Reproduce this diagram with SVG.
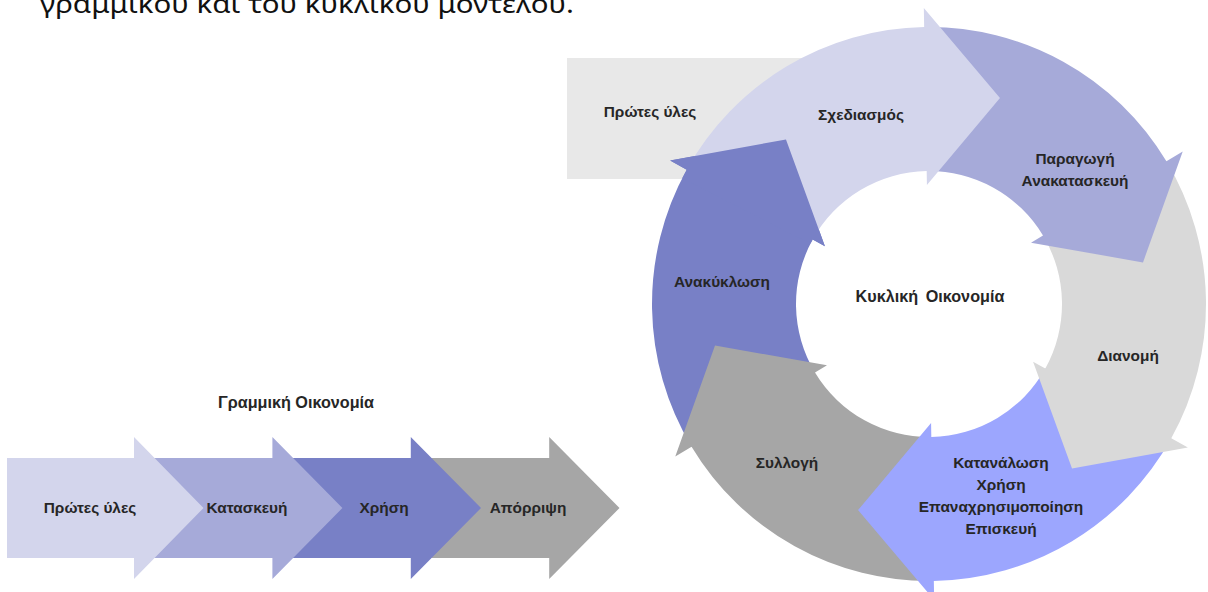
<svg xmlns="http://www.w3.org/2000/svg" xmlns:xlink="http://www.w3.org/1999/xlink" width="1208" height="592" viewBox="0 0 1208 592">
  <style>
    .lbl { font-family: "Liberation Sans", Arial, sans-serif; font-weight: bold; font-size: 15.4px; fill: #262626; text-anchor: middle; }
    .title { font-family: "Liberation Sans", Arial, sans-serif; font-weight: bold; font-size: 16.2px; fill: #262626; text-anchor: middle; }
    .body { font-family: "Noto Sans", "Open Sans", sans-serif; font-size: 25px; fill: #111111; }
    .c1 { fill: #D3D5EC; }
    .c2 { fill: #A6AAD9; }
    .c3 { fill: #7880C6; }
    .c4 { fill: #A6A6A6; }
    .c5 { fill: #D9D9D9; }
    .c6 { fill: #9CA6FE; }
    .raw { fill: #E8E8E8; }
  </style>
  <defs>
    <path id="anak-head" d="M 682.19,178.25 A 277 277 0 0 1 686.73,169.71 L 670.11,160.50 L 785.98,139.47 L 824.92,246.31 L 812.68,239.52 A 133 133 0 0 0 810.50,243.62 Z"/>
  </defs>
  <rect width="1208" height="592" fill="#FFFFFF"/>

  <text class="body" x="40" y="13" textLength="534" lengthAdjust="spacingAndGlyphs">γραμμικού και του  κυκλικού μοντέλου.</text>

  <!-- Linear economy -->
  <g id="linear-title">
    <text class="title" x="296" y="408">Γραμμική Οικονομία</text>
  </g>
  <g id="linear-apporipsi">
    <path class="c4" d="M 410.8,458 L 549.2,458 L 549.2,437 L 619.5,508 L 549.2,579 L 549.2,558 L 410.8,558 Z"/>
    <text class="lbl" x="528" y="513">Απόρριψη</text>
  </g>
  <g id="linear-xrisi">
    <path class="c3" d="M 272.4,458 L 410.8,458 L 410.8,437 L 481,508 L 410.8,579 L 410.8,558 L 272.4,558 Z"/>
    <text class="lbl" x="384" y="513">Χρήση</text>
  </g>
  <g id="linear-kataskevi">
    <path class="c2" d="M 134,458 L 272.4,458 L 272.4,437 L 342.4,508 L 272.4,579 L 272.4,558 L 134,558 Z"/>
    <text class="lbl" x="247" y="513">Κατασκευή</text>
  </g>
  <g id="linear-protes-ules">
    <path class="c1" d="M 7,458 L 134,458 L 134,437 L 203.5,508 L 134,579 L 134,558 L 7,558 Z"/>
    <text class="lbl" x="90" y="513">Πρώτες ύλες</text>
  </g>

  <!-- Raw materials box behind cycle -->
  <g id="cycle-protes-ules">
    <rect class="raw" x="567" y="58" width="240" height="121"/>
    <text class="lbl" x="650" y="117">Πρώτες ύλες</text>
  </g>

  <!-- Circular economy -->
  <g id="anakyklosi">
    <path class="c3" d="M 691.57,446.67 A 277 277 0 0 1 686.73,169.71 L 670.11,160.50 L 785.98,139.47 L 824.92,246.31 L 812.68,239.52 A 133 133 0 0 0 815.00,372.50 Z"/>
    <text class="lbl" x="722" y="287">Ανακύκλωση</text>
  </g>
  <g id="syllogi">
    <path class="c4" d="M 933.83,580.96 A 277 277 0 0 1 691.57,446.67 L 675.28,456.45 L 715.00,345.60 L 827.00,365.29 L 815.00,372.50 A 133 133 0 0 0 931.32,436.98 Z"/>
    <text class="lbl" x="787" y="468">Συλλογή</text>
  </g>
  <g id="katanalosi">
    <path class="c6" d="M 1171.27,438.29 A 277 277 0 0 1 933.83,580.96 L 934.17,599.95 L 858.03,510.12 L 931.08,422.98 L 931.32,436.98 A 133 133 0 0 0 1045.32,368.48 Z"/>
    <text class="lbl" x="1001" y="468">Κατανάλωση</text>
    <text class="lbl" x="1001" y="490">Χρήση</text>
    <text class="lbl" x="1001" y="512">Επαναχρησιμοποίηση</text>
    <text class="lbl" x="1001" y="534">Επισκευή</text>
  </g>
  <g id="dianomi">
    <path class="c5" d="M 1166.43,161.33 A 277 277 0 0 1 1171.27,438.29 L 1187.89,447.50 L 1072.02,468.53 L 1033.08,361.69 L 1045.32,368.48 A 133 133 0 0 0 1043.00,235.50 Z"/>
    <text class="lbl" x="1128" y="361">Διανομή</text>
  </g>
  <g id="paragogi">
    <path class="c2" d="M 924.17,27.04 A 277 277 0 0 1 1166.43,161.33 L 1182.72,151.55 L 1143.00,262.40 L 1031.00,242.71 L 1043.00,235.50 A 133 133 0 0 0 926.68,171.02 Z"/>
    <text class="lbl" x="1075" y="164">Παραγωγή</text>
    <text class="lbl" x="1075" y="186">Ανακατασκευή</text>
  </g>
  <g id="sxediasmos">
    <path class="c1" d="M 686.73,169.71 A 277 277 0 0 1 924.17,27.04 L 923.83,8.05 L 999.97,97.88 L 926.92,185.02 L 926.68,171.02 A 133 133 0 0 0 812.68,239.52 Z"/>
    <text class="lbl" x="861" y="120">Σχεδιασμός</text>
  </g>
  <g id="anakyklosi-head">
    <use xlink:href="#anak-head" class="c3"/>
  </g>
  <g id="center-label">
    <text class="title" x="930" y="302" word-spacing="3">Κυκλική Οικονομία</text>
  </g>
</svg>
